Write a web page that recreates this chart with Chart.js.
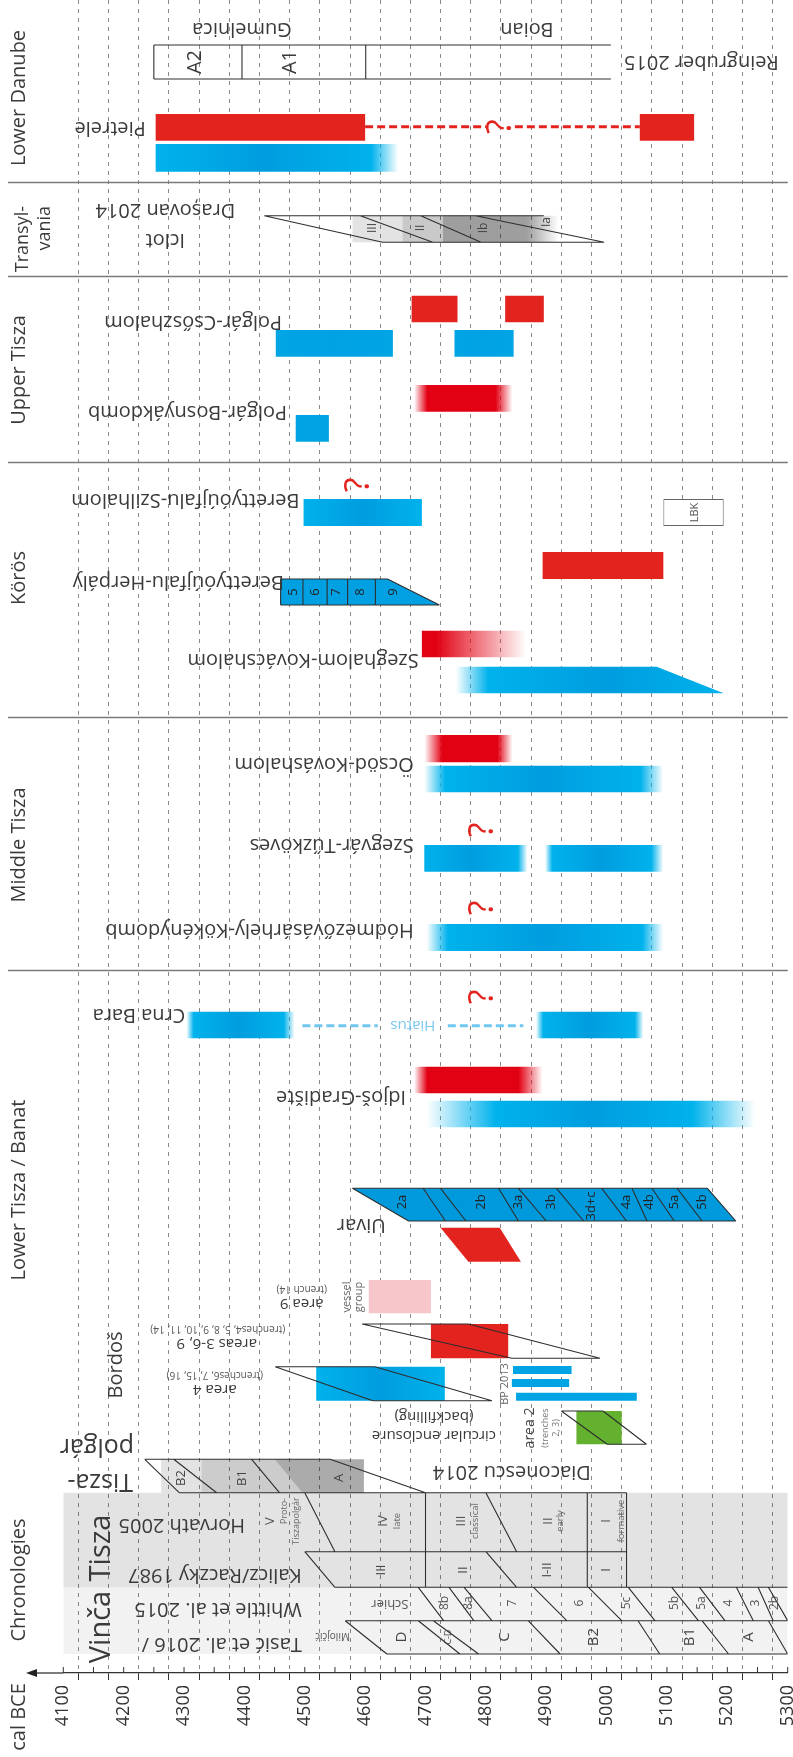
<!DOCTYPE html>
<html lang="en">
<head>
<meta charset="utf-8">
<title>Radiocarbon chronologies of the Carpathian Basin and Lower Danube</title>
<script src="https://cdn.jsdelivr.net/npm/chart.js@4.4.1/dist/chart.umd.min.js"></script>
<style>
  html, body { margin: 0; padding: 0; background: #fff; }
  #frame { position: relative; width: 793px; height: 1757px; }
</style>
</head>
<body>
<div id="frame"><canvas id="chrono"></canvas></div>
<script>
// ================= time axis =================
const yearMin = 4100;
const yearMax = 5300;
const gridStep = 50;
const labelStep = 100;
const axisTitle = 'cal BCE';

// ================= names =================
const regionNames = ['Lower Danube', 'Transyl-', 'vania', 'Upper Tisza', 'Körös', 'Middle Tisza', 'Lower Tisza / Banat', 'Chronologies'];
const siteNames = ['Pietrele', 'Polgár-Csőszhalom', 'Polgár-Bosnyákdomb', 'Berettyóújfalu-Szilhalom',
  'Berettyóújfalu-Herpály', 'Szeghalom-Kovácshalom', 'Öcsöd-Kováshalom', 'Szegvár-Tűzköves',
  'Hódmezővásárhely-Kökénydomb', 'Crna Bara', 'Idjoš-Gradište', 'Uivar'];

// ================= Lower Danube =================
const pietreleRed = [[4253, 4600], [5055, 5145]];
const pietreleLink = [[4600, 4801], [4848, 5055]];
const pietreleQuery = 4826;
const pietreleBlue = [[4253, 4655]];
const pietreleBlueFade = [[0, 45]];
const reingruberRef = 'Reingruber 2015';
const reingruberCultures = ['Gumelnica', 'Boian'];
const reingruberCultureMid = [4396, 4868];
const reingruberPhases = ['A2', 'A1'];
const reingruberPhaseMid = [4318, 4476];
const reingruberBreaks = [4250, 4396, 4601];
const reingruberSpan = [4250, 5007];

// ================= Transylvania =================
const iclodRefs = ['Iclot', 'Drașovan 2014'];
const iclodTop = [4433, 4896];
const iclodBottom = [4629, 4996];
const iclodBounds = [[4433, 4629], [4592, 4712], [4692, 4792], [4783, 4996]];
const iclodShades = [[4579, 4662], [4662, 4729], [4729, 4921]];
const iclodShadeFade = [[0, 0], [0, 0], [0, 54]];
const iclodPhases = ['III', 'II', 'Ib', 'Ia'];
const iclodPhaseMid = [4612, 4692, 4796, 4900];

// ================= Upper Tisza =================
const csoszhalomRed = [[4677, 4753], [4832, 4896]];
const csoszhalomBlue = [[4452, 4646], [4748, 4846]];
const bosnyakRed = [[4681, 4844]];
const bosnyakRedFade = [[22, 28]];
const bosnyakBlue = [[4485, 4540]];

// ================= Körös =================
const szilhalomBlue = [[4498, 4694]];
const szilhalomQuery = 4590;
const lbkLabel = 'LBK';
const lbkSpan = [[5094, 5194]];
const lbkMid = 5146;
const herpalyRed = [[4894, 5094]];
const herpalyTop = [4460, 4637];
const herpalyBottom = [4460, 4723];
const herpalyLayers = ['5', '6', '7', '8', '9'];
const herpalyLayerMid = [4481, 4518, 4553, 4592, 4646];
const herpalyLayerBreaks = [4497, 4537, 4571, 4617];
const szeghalomRed = [[4694, 4867]];
const szeghalomRedFade = [[0, 150]];
const szeghalomTop = [4750, 5083];
const szeghalomBottom = [4750, 5194];
const szeghalomFadeIn = 54;

// ================= Middle Tisza =================
const ocsodRed = [[4698, 4844]];
const ocsodRedFade = [[30, 25]];
const ocsodBlue = [[4698, 5094]];
const ocsodBlueFade = [[35, 38]];
const szegvarBlue = [[4698, 4869], [4898, 5094]];
const szegvarBlueFade = [[0, 16], [12, 20]];
const szegvarQuery = 4796;
const kokenydombBlue = [[4702, 5094]];
const kokenydombBlueFade = [[35, 35]];
const kokenydombQuery = 4796;

// ================= Lower Tisza / Banat =================
const crnaBaraQuery = 4796;
const crnaBaraBlue = [[4304, 4483], [4883, 5061]];
const crnaBaraBlueFade = [[12, 18], [12, 14]];
const crnaBaraHiatus = [[4496, 4621], [4737, 4862]];
const hiatusLabel = 'Hiatus';
const hiatusMid = 4679;
const idjosRed = [[4681, 4894]];
const idjosRedFade = [[22, 40]];
const idjosBlue = [[4702, 5246]];
const idjosBlueFade = [[115, 105]];
const uivarTop = [4579, 5167];
const uivarBottom = [4672, 5214];
const uivarBounds = [[4696, 4733], [4725, 4767], [4821, 4854], [4854, 4900], [4917, 4962],
  [4992, 5033], [5042, 5067], [5075, 5112], [5117, 5158]];
const uivarPhases = ['2a', '2b', '3a', '3b', '3d+c', '4a', '4b', '5a', '5b'];
const uivarPhaseMid = [4662, 4792, 4854, 4908, 4975, 5033, 5071, 5112, 5158];
const uivarRedTop = [4725, 4823];
const uivarRedBottom = [4771, 4858];

// Bordoš (areas, trenches)
const bordosName = 'Bordoš';
const bordosVessel = [[4606, 4709]];
const bordosA369 = [[4709, 4837]];
const bordosA369Frame = [4595, 4771, 4843, 4989];   // top-left, top-right, bottom-left, bottom-right
const bordosA4 = [[4519, 4732]];
const bordosA4Frame = [4451, 4616, 4613, 4810];
const bp2013 = [[4845, 4942], [4843, 4938], [4850, 5050]];
const bordosA2 = [[4950, 5025]];
const bordosA2Frame = [4925, 4994, 5001, 5066];

// Tisza-polgár (Diaconescu 2014)
const tpRef = 'Diaconescu 2014';
const tpFrameTop = [4235, 4542];
const tpFrameBottom = [4292, 4700];
const tpBounds = [[4235, 4292], [4283, 4354], [4412, 4458], [4542, 4700]];
const tpPhases = ['B2', 'B1', 'A'];
const tpPhaseMid = [4296, 4396, 4558];
const tpB2 = [[4262, 4329]];
const tpB1Top = [4329, 4450];
const tpB1Bottom = [4329, 4496];
const tpATop = [4450, 4598];
const tpABottom = [4496, 4598];

// ================= Chronologies =================
const chronoSpan = [[4100, 5300]];
const horvathRef = 'Horvath 2005';
const horvathPhases = ['V', 'IV', 'III', 'II', 'I'];
const horvathPhaseMid = [4443, 4630, 4760, 4903, 5000];
const horvathNotes = ['late', 'classical', 'early', 'formative'];
const horvathNoteMid = [4654, 4782, 4923, 5025];
const horvathV = ['Proto-', 'Tiszapolgár'];
const horvathVMid = [4467, 4487];
const horvathSlants = [[4500, 4550], [4800, 4851]];
const tiszaBreaks = [4700, 4968, 5033];
const tiszaSpan = [4292, 5033];
const kaliczRef = 'Kalicz/Raczky 1987';
const kaliczPhases = ['III', 'II', 'I-II', 'I'];
const kaliczPhaseMid = [4627, 4763, 4901, 5000];
const kaliczSlants = [[4500, 4550], [4800, 4851]];
const whittleRef = 'Whittle et al. 2015';
const whittleBounds = [[4688, 4730], [4739, 4780], [4764, 4810], [4879, 4934], [4970, 5025],
  [5036, 5080], [5108, 5152], [5154, 5196], [5215, 5243], [5251, 5276], [5268, 5300]];
const whittlePhases = ['8b', '8a', '7', '6', '5c', '5b', '5a', '4', '3', '2b'];
const whittlePhaseMid = [4732, 4771, 4845, 4956, 5033, 5113, 5157, 5202, 5246, 5279];
const schierLabel = 'Schier';
const schierMid = 4641;
const tasicRef = 'Tasić et al. 2016 /';
const tasicBounds = [[4567, 4636], [4688, 4757], [4713, 4788], [4870, 4923], [5052, 5088], [5158, 5202], [5268, 5300]];
const tasicPhases = ['D', 'C-D', 'C', 'B2', 'B1', 'A'];
const tasicPhaseMid = [4660, 4738, 4832, 4978, 5138, 5235];
const milojcicLabel = 'Milojčić';
const milojcicMid = 4546;

// ================= layout (row scale: 0 at the top, axis at 1673) =================
const ROW = {
  reingruber: {top: 45, bottom: 79},
  pietreleRed: {top: 114, bottom: 140.7},
  pietreleLink: 126.7,
  pietreleBlue: {top: 144, bottom: 171.7},
  iclod: {top: 215.7, bottom: 242.3},
  csoszRed: {top: 295.7, bottom: 322.3},
  csoszBlue: {top: 330, bottom: 356.7},
  bosnyRed: {top: 385, bottom: 411.7},
  bosnyBlue: {top: 415, bottom: 441.7},
  szilBlue: {top: 499, bottom: 526},
  herpRed: {top: 552, bottom: 579},
  herpBlue: {top: 579, bottom: 605},
  szegRed: {top: 630.7, bottom: 657.3},
  szegBlue: {top: 666.7, bottom: 693.3},
  ocsodRed: {top: 735, bottom: 762.3},
  ocsodBlue: {top: 765.7, bottom: 792.3},
  szegvar: {top: 845, bottom: 871.7},
  kokeny: {top: 924, bottom: 951},
  crna: {top: 1011.7, bottom: 1038.3},
  hiatus: 1025.7,
  idjosRed: {top: 1066.7, bottom: 1093.3},
  idjosBlue: {top: 1100.7, bottom: 1127.3},
  uivarBlue: {top: 1188.3, bottom: 1221},
  uivarRed: {top: 1227.7, bottom: 1261.7},
  bVessel: {top: 1280, bottom: 1313.3},
  bA369: {top: 1324, bottom: 1358.3},
  bA4: {top: 1366.7, bottom: 1400.7},
  bpRows: [1370, 1383, 1396.7],
  bA2: {top: 1411, bottom: 1444.3},
  tp: {top: 1459.3, bottom: 1492.7},
  horvath: {top: 1492.7, bottom: 1551.7},
  kalicz: {top: 1551.7, bottom: 1587.3},
  whittle: {top: 1587.3, bottom: 1620.7},
  tasic: {top: 1620.7, bottom: 1654},
  axis: 1673,
  separators: [182, 276, 462, 717, 970]
};

const FONT = '"Open Sans", "Noto Sans", "DejaVu Sans", sans-serif';
const INK = '#3a3a3a';
const RED = 'rgb(227,35,30)';
const PAINT = {
  blue: {edge: 'rgb(0,178,236)', core: 'rgb(0,157,223)', clear: 'rgba(0,178,236,0)'},
  blueFlat: {edge: 'rgb(0,165,228)', core: 'rgb(0,162,227)', clear: 'rgba(0,165,228,0)'},
  red: {edge: RED, core: RED, clear: 'rgba(227,35,30,0)'},
  crimson: {edge: 'rgb(226,0,19)', core: 'rgb(226,0,19)', clear: 'rgba(226,0,19,0)'},
  pink: {edge: '#f6c6cb', core: '#f6c6cb', clear: 'rgba(246,198,203,0)'},
  green: {edge: '#64b12f', core: '#64b12f', clear: 'rgba(100,177,47,0)'},
  grey1: {edge: 'rgba(0,0,0,0.11)', core: 'rgba(0,0,0,0.11)', clear: 'rgba(0,0,0,0)'},
  grey2: {edge: 'rgba(0,0,0,0.21)', core: 'rgba(0,0,0,0.21)', clear: 'rgba(0,0,0,0)'},
  grey3: {edge: 'rgba(0,0,0,0.38)', core: 'rgba(0,0,0,0.38)', clear: 'rgba(0,0,0,0)'},
  tisza: {edge: 'rgba(0,0,0,0.11)', core: 'rgba(0,0,0,0.11)', clear: 'rgba(0,0,0,0)'},
  vinca: {edge: 'rgba(0,0,0,0.05)', core: 'rgba(0,0,0,0.05)', clear: 'rgba(0,0,0,0)'}
};

// ================= helpers =================
function gradientFor(chart, a, b, paint, fade) {
  const xs = chart.scales.x;
  const x0 = xs.getPixelForValue(a), x1 = xs.getPixelForValue(b);
  const g = chart.ctx.createLinearGradient(x0, 0, x1, 0);
  const span = b - a;
  const fl = Math.min(fade[0] / span, 1);
  const fr = Math.min(fade[1] / span, 1 - fl);
  const mid = (fl + (1 - fr)) / 2;
  g.addColorStop(0, fl > 0 ? paint.clear : paint.edge);
  if (fl > 0) g.addColorStop(fl, paint.edge);
  g.addColorStop(mid, paint.core);
  if (fr > 0) g.addColorStop(1 - fr, paint.edge);
  g.addColorStop(1, fr > 0 ? paint.clear : paint.edge);
  return g;
}

function barSet(ranges, row, paint, fades, order, extra) {
  const y = (row.top + row.bottom) / 2;
  return Object.assign({
    type: 'bar', indexAxis: 'y', grouped: false,
    data: ranges.map(r => ({x: r, y})),
    barThickness: row.bottom - row.top,
    borderWidth: 0, borderSkipped: false, inflateAmount: 0,
    backgroundColor: (ctx) => {
      const chart = ctx.chart;
      if (!chart.chartArea || !ctx.raw) return paint.core;
      const f = fades ? fades[ctx.dataIndex] : [0, 0];
      return gradientFor(chart, ctx.raw.x[0], ctx.raw.x[1], paint, f);
    },
    order: order == null ? 2 : order
  }, extra || {});
}

function shapeSet(points, fill, order) {
  return {
    type: 'line', data: points.map(([x, y]) => ({x, y})),
    fill: 'shape', backgroundColor: fill, borderWidth: 0, borderColor: 'rgba(0,0,0,0)',
    pointRadius: 0, pointHoverRadius: 0, pointHitRadius: 0, tension: 0, order: order == null ? 3 : order
  };
}

function lineSet(segs, color, width, dash, order) {
  const data = [];
  segs.forEach(([x0, y0, x1, y1]) => { data.push({x: x0, y: y0}, {x: x1, y: y1}, {x: NaN, y: NaN}); });
  return {
    type: 'line', data, borderColor: color, borderWidth: width, borderDash: dash || [],
    borderCapStyle: 'butt', pointRadius: 0, pointHoverRadius: 0, pointHitRadius: 0,
    fill: false, tension: 0, spanGaps: false, order: order == null ? 0 : order
  };
}

function quad(top, bottom, row) {
  return [[top[0], row.top], [top[1], row.top], [bottom[1], row.bottom], [bottom[0], row.bottom]];
}
function frameSegs(f, row) {
  return [
    [f[0], row.top, f[1], row.top],
    [f[2], row.bottom, f[3], row.bottom],
    [f[0], row.top, f[2], row.bottom],
    [f[1], row.top, f[3], row.bottom]
  ];
}
function slantSegs(list, row) { return list.map(([a, b]) => [a, row.top, b, row.bottom]); }

// ================= outlines =================
const outline = [];
// Reingruber 2015 box
outline.push([reingruberSpan[0], ROW.reingruber.top, reingruberSpan[1], ROW.reingruber.top]);
outline.push([reingruberSpan[0], ROW.reingruber.bottom, reingruberSpan[1], ROW.reingruber.bottom]);
reingruberBreaks.forEach(v => outline.push([v, ROW.reingruber.top, v, ROW.reingruber.bottom]));
// Iclod
outline.push([iclodTop[0], ROW.iclod.top, iclodTop[1], ROW.iclod.top]);
outline.push([iclodBottom[0], ROW.iclod.bottom, iclodBottom[1], ROW.iclod.bottom]);
outline.push(...slantSegs(iclodBounds, ROW.iclod));
// Herpály layers
const hq = quad(herpalyTop, herpalyBottom, ROW.herpBlue);
for (let i = 0; i < 4; i++) outline.push([hq[i][0], hq[i][1], hq[(i + 1) % 4][0], hq[(i + 1) % 4][1]]);
herpalyLayerBreaks.forEach(v => outline.push([v, ROW.herpBlue.top, v, ROW.herpBlue.bottom]));
// Uivar
const uq = quad(uivarTop, uivarBottom, ROW.uivarBlue);
for (let i = 0; i < 4; i++) outline.push([uq[i][0], uq[i][1], uq[(i + 1) % 4][0], uq[(i + 1) % 4][1]]);
outline.push(...slantSegs(uivarBounds, ROW.uivarBlue));
// Bordoš frames
outline.push(...frameSegs(bordosA369Frame, ROW.bA369));
outline.push(...frameSegs(bordosA4Frame, ROW.bA4));
outline.push(...frameSegs(bordosA2Frame, ROW.bA2));
// Tisza-polgár
outline.push([tpFrameTop[0], ROW.tp.top, tpFrameTop[1], ROW.tp.top]);
outline.push([tiszaSpan[0], ROW.tp.bottom, tiszaSpan[1], ROW.tp.bottom]);
outline.push(...slantSegs(tpBounds, ROW.tp));
// Tisza chronologies
outline.push(...slantSegs(horvathSlants, ROW.horvath));
outline.push(...slantSegs(kaliczSlants, ROW.kalicz));
outline.push([kaliczSlants[0][0], ROW.kalicz.top, tiszaSpan[1], ROW.kalicz.top]);
outline.push([kaliczSlants[0][1], ROW.kalicz.bottom, yearMax, ROW.kalicz.bottom]);
tiszaBreaks.forEach(v => outline.push([v, ROW.horvath.top, v, ROW.kalicz.bottom]));
// Vinča chronologies
outline.push(...slantSegs(whittleBounds, ROW.whittle));
outline.push(...slantSegs(tasicBounds, ROW.tasic));
outline.push([tasicBounds[0][0], ROW.tasic.top, yearMax, ROW.tasic.top]);
outline.push([tasicBounds[0][1], ROW.tasic.bottom, yearMax, ROW.tasic.bottom]);

// ================= datasets =================
const datasets = [
  // background bands of the chronology block
  barSet(chronoSpan, {top: ROW.horvath.top, bottom: ROW.kalicz.bottom}, PAINT.tisza, null, 6),
  barSet(chronoSpan, {top: ROW.whittle.top, bottom: ROW.tasic.bottom}, PAINT.vinca, null, 6),
  // grey phase shading
  barSet(iclodShades.slice(0, 1), ROW.iclod, PAINT.grey1, null, 5),
  barSet(iclodShades.slice(1, 2), ROW.iclod, PAINT.grey2, null, 5),
  barSet(iclodShades.slice(2, 3), ROW.iclod, PAINT.grey3, iclodShadeFade.slice(2, 3), 5),
  barSet(tpB2, ROW.tp, PAINT.grey1, null, 5),
  shapeSet(quad(tpB1Top, tpB1Bottom, ROW.tp), 'rgba(0,0,0,0.2)', 5),
  shapeSet(quad(tpATop, tpABottom, ROW.tp), 'rgba(0,0,0,0.33)', 5),
  // Lower Danube
  barSet(pietreleRed, ROW.pietreleRed, PAINT.red),
  barSet(pietreleBlue, ROW.pietreleBlue, PAINT.blue, pietreleBlueFade),
  // Upper Tisza
  barSet(csoszhalomRed, ROW.csoszRed, PAINT.red),
  barSet(csoszhalomBlue, ROW.csoszBlue, PAINT.blueFlat),
  barSet(bosnyakRed, ROW.bosnyRed, PAINT.crimson, bosnyakRedFade),
  barSet(bosnyakBlue, ROW.bosnyBlue, PAINT.blueFlat),
  // Körös
  barSet(szilhalomBlue, ROW.szilBlue, PAINT.blue, [[0, 0]]),
  barSet(lbkSpan, ROW.szilBlue, PAINT.blue, null, 2,
    {backgroundColor: '#ffffff', borderColor: '#666', borderWidth: 1}),
  barSet(herpalyRed, ROW.herpRed, PAINT.red),
  shapeSet(quad(herpalyTop, herpalyBottom, ROW.herpBlue), 'rgb(0,160,227)'),
  barSet(szeghalomRed, ROW.szegRed, PAINT.crimson, szeghalomRedFade),
  shapeSet(quad(szeghalomTop, szeghalomBottom, ROW.szegBlue), (ctx) => {
    const chart = ctx.chart;
    if (!chart.chartArea) return PAINT.blue.core;
    return gradientFor(chart, szeghalomTop[0], szeghalomBottom[1], PAINT.blue, [szeghalomFadeIn, 0]);
  }),
  // Middle Tisza
  barSet(ocsodRed, ROW.ocsodRed, PAINT.crimson, ocsodRedFade),
  barSet(ocsodBlue, ROW.ocsodBlue, PAINT.blue, ocsodBlueFade),
  barSet(szegvarBlue, ROW.szegvar, PAINT.blue, szegvarBlueFade),
  barSet(kokenydombBlue, ROW.kokeny, PAINT.blue, kokenydombBlueFade),
  // Lower Tisza / Banat
  barSet(crnaBaraBlue, ROW.crna, PAINT.blue, crnaBaraBlueFade),
  barSet(idjosRed, ROW.idjosRed, PAINT.crimson, idjosRedFade),
  barSet(idjosBlue, ROW.idjosBlue, PAINT.blue, idjosBlueFade),
  shapeSet(quad(uivarTop, uivarBottom, ROW.uivarBlue), 'rgb(0,153,219)'),
  shapeSet(quad(uivarRedTop, uivarRedBottom, ROW.uivarRed), RED),
  barSet(bordosVessel, ROW.bVessel, PAINT.pink),
  barSet(bordosA369, ROW.bA369, PAINT.red),
  barSet(bordosA4, ROW.bA4, PAINT.blue, [[0, 0]]),
  ...bp2013.map((r, i) => barSet([r], {top: ROW.bpRows[i] - 4, bottom: ROW.bpRows[i] + 4}, PAINT.blueFlat)),
  barSet(bordosA2, ROW.bA2, PAINT.green),
  // outlines and links
  lineSet(outline, '#2e2e2e', 1.1),
  lineSet(pietreleLink.map(([a, b]) => [a, ROW.pietreleLink, b, ROW.pietreleLink]), RED, 3, [8, 4]),
  lineSet(crnaBaraHiatus.map(([a, b]) => [a, ROW.hiatus, b, ROW.hiatus]), '#71c7f0', 3, [8, 4])
];

// ================= text labels =================
const LABELS = [];
function L(s, pos, y, rot, size, opt) { LABELS.push(Object.assign({s, pos, y, rot, size}, opt || {})); }
// regions, reading upwards in the left margin
L(regionNames[0], {px: 19}, 98, -90, 20);
L(regionNames[1], {px: 23}, 206, -90, 18, {align: 'right'});
L(regionNames[2], {px: 45}, 206, -90, 18, {align: 'right'});
L(regionNames[3], {px: 19}, 370, -90, 20);
L(regionNames[4], {px: 19}, 578, -90, 20);
L(regionNames[5], {px: 19}, 845, -90, 20);
L(regionNames[6], {px: 19}, 1190, -90, 20);
L(regionNames[7], {px: 19}, 1580, -90, 20);
L(axisTitle, {px: 19}, 1717, -90, 20);
// site names (turned)
const sitePos = [[145.7, 128], [282, 321.7], [287, 411.7], [299.5, 500], [284, 581.7], [418.8, 660],
  [413.7, 763.3], [413.7, 845], [413.7, 930], [185.3, 1015], [406, 1096.7], [385.8, 1225]];
siteNames.forEach((s, i) => L(s, {px: sitePos[i][0]}, sitePos[i][1], 180, 20, {align: 'left'}));
// Lower Danube
reingruberCultures.forEach((s, i) => L(s, {yr: reingruberCultureMid[i]}, 29, 180, 20));
L(reingruberRef, {yr: 5157}, 62, 180, 20);
reingruberPhases.forEach((s, i) => L(s, {yr: reingruberPhaseMid[i]}, 62, -90, 20));
// Transylvania
L(iclodRefs[0], {yr: 4269}, 240, 180, 20);
L(iclodRefs[1], {yr: 4269}, 210, 180, 20);
iclodPhases.forEach((s, i) => L(s, {yr: iclodPhaseMid[i]}, i === 3 ? 222 : 228, -90, 12, {color: '#444'}));
// Körös
L(lbkLabel, {yr: lbkMid}, 512.5, -90, 11, {color: '#555'});
herpalyLayers.forEach((s, i) => L(s, {yr: herpalyLayerMid[i]}, 592, -90, 13, {color: '#222'}));
// Lower Tisza / Banat
L(hiatusLabel, {yr: hiatusMid}, ROW.hiatus, 180, 15, {color: '#79c8ef'});
uivarPhases.forEach((s, i) => L(s, {yr: uivarPhaseMid[i]}, s === '3d+c' ? 1206 : 1202, -90, 13, {color: '#222'}));
L(bordosName, {px: 116.7}, 1365, -90, 20);
L('area 9', {yr: 4495}, 1303.3, 180, 15);
L('(trench 14)', {yr: 4495}, 1289, 180, 10, {color: '#555'});
L('vessel', {yr: 4569}, 1297, -90, 11, {color: '#666'});
L('group', {yr: 4589}, 1297, -90, 11, {color: '#666'});
L('areas 3-6, 9', {yr: 4354}, 1343.3, 180, 15);
L('(trenches4, 5, 8, 9, 10, 11, 14)', {yr: 4356}, 1329, 180, 10, {color: '#555'});
L('area 4', {yr: 4351}, 1389.3, 180, 15);
L('(trenches6, 7, 15, 16)', {yr: 4351}, 1375, 180, 10, {color: '#555'});
L('circular enclosure', {yr: 4714}, 1435, 180, 15);
L('(backfilling)', {yr: 4714}, 1416.7, 180, 15);
L('BP 2013', {yr: 4832}, 1384, -90, 11, {color: '#666'});
L('area 2', {yr: 4873}, 1428, -90, 14, {color: '#444'});
L('(trenches', {yr: 4899}, 1428, -90, 9, {color: '#777'});
L('2, 3)', {yr: 4917}, 1428, -90, 9, {color: '#777'});
L(tpRef, {yr: 4843}, 1471.7, 180, 20);
L('Tisza-', {px: 133}, 1481, 180, 25, {align: 'left'});
L('polgár', {px: 134}, 1446, 180, 25, {align: 'left'});
tpPhases.forEach((s, i) => L(s, {yr: tpPhaseMid[i]}, 1478, -90, 13, {color: '#444'}));
// Chronologies
L('Tisza', {px: 101.7}, 1548, -90, 29);
L('Vinča', {px: 101.7}, 1627, -90, 29);
L(horvathRef, {px: 245}, 1525, 180, 20, {align: 'left'});
L(kaliczRef, {px: 301.7}, 1575, 180, 20, {align: 'left'});
L(whittleRef, {px: 301.7}, 1608.3, 180, 20, {align: 'left'});
L(tasicRef, {px: 301.7}, 1643.3, 180, 20, {align: 'left'});
horvathPhases.forEach((s, i) => L(s, {yr: horvathPhaseMid[i]}, 1521, -90, 13, {color: '#555'}));
horvathNotes.forEach((s, i) => L(s, {yr: horvathNoteMid[i]}, 1521, -90, 9.5, {color: '#666'}));
L(horvathV[0], {yr: horvathVMid[0]}, 1511, -90, 9, {color: '#666'});
L(horvathV[1], {yr: horvathVMid[1]}, 1521, -90, 9, {color: '#666'});
kaliczPhases.forEach((s, i) => L(s, {yr: kaliczPhaseMid[i]}, 1570, -90, 13, {color: '#444'}));
whittlePhases.forEach((s, i) => L(s, {yr: whittlePhaseMid[i]}, 1603, -90, 12, {color: '#555'}));
L(schierLabel, {yr: schierMid}, 1604, 180, 13, {color: '#555'});
tasicPhases.forEach((s, i) => L(s, {yr: tasicPhaseMid[i]}, 1637, -90, s === 'C-D' ? 9 : 15, {color: '#444'}));
L(milojcicLabel, {yr: milojcicMid}, 1636, 180, 10, {color: '#555'});
// open questions
[[pietreleQuery, 126.7], [szilhalomQuery, 485], [szegvarQuery, 830], [kokenydombQuery, 908], [crnaBaraQuery, 997]]
  .forEach(([v, y]) => L('?', {yr: v}, y, -90, 34, {color: RED, weight: 'normal'}));

// ================= decoration plugin =================
const decor = {
  id: 'decor',
  beforeDatasetsDraw(chart) {
    const ctx = chart.ctx, ys = chart.scales.y;
    ctx.save();
    ctx.strokeStyle = '#7a7a7a';
    ctx.lineWidth = 1.5;
    ROW.separators.forEach(v => {
      const y = Math.round(ys.getPixelForValue(v)) + 0.5;
      ctx.beginPath(); ctx.moveTo(8, y); ctx.lineTo(chart.chartArea.right, y); ctx.stroke();
    });
    ctx.restore();
  },
  afterDraw(chart) {
    const ctx = chart.ctx, a = chart.chartArea, xs = chart.scales.x, ys = chart.scales.y;
    ctx.save();
    // axis extension with arrow towards the younger end
    ctx.strokeStyle = '#333'; ctx.lineWidth = 1.3;
    ctx.beginPath(); ctx.moveTo(33, a.bottom); ctx.lineTo(a.left, a.bottom); ctx.stroke();
    ctx.fillStyle = '#222';
    ctx.beginPath(); ctx.moveTo(26, a.bottom); ctx.lineTo(37, a.bottom - 4); ctx.lineTo(37, a.bottom + 4); ctx.closePath(); ctx.fill();
    ctx.lineWidth = 1;
    xs.ticks.forEach(t => {
      const x = xs.getPixelForValue(t.value);
      ctx.beginPath(); ctx.moveTo(x, a.bottom - 6); ctx.lineTo(x, a.bottom); ctx.stroke();
    });
    // texts
    LABELS.forEach(l => {
      const x = l.pos.px != null ? l.pos.px : xs.getPixelForValue(l.pos.yr);
      const y = ys.getPixelForValue(l.y);
      ctx.save();
      ctx.translate(x, y);
      ctx.rotate(l.rot * Math.PI / 180);
      ctx.font = `${l.weight || 'normal'} ${l.size}px ${FONT}`;
      ctx.fillStyle = l.color || INK;
      ctx.textAlign = l.align || 'center';
      ctx.textBaseline = 'middle';
      ctx.fillText(l.s, 0, 0);
      ctx.restore();
    });
    ctx.restore();
  }
};

// ================= chart =================
new Chart(document.getElementById('chrono'), {
  type: 'bar',
  data: {datasets},
  options: {
    responsive: true,
    maintainAspectRatio: false,
    animation: false,
    events: [],
    layout: {padding: {left: 63.3, right: 5.3, top: 0, bottom: 0}},
    plugins: {legend: {display: false}, tooltip: {enabled: false}},
    scales: {
      x: {
        type: 'linear', min: yearMin, max: yearMax, offset: false, position: 'bottom',
        afterFit: (s) => { s.height = 1757 - ROW.axis; s.paddingLeft = 0; s.paddingRight = 0; },
        ticks: {
          stepSize: gridStep, maxTicksLimit: 100, autoSkip: false, minRotation: 90, maxRotation: 90,
          padding: 5, color: '#333', font: {family: FONT, size: 18},
          callback: (v) => (v % labelStep === 0 ? String(v) : '')
        },
        grid: {color: '#8a8a8a', lineWidth: 1, tickLength: 7, tickColor: '#333', tickWidth: 1, drawOnChartArea: true},
        border: {display: true, color: '#333', width: 1.3, dash: [4, 5]}
      },
      y: {type: 'linear', min: 0, max: ROW.axis, reverse: true, display: false, offset: false}
    }
  },
  plugins: [decor]
});
</script>
</body>
</html>
